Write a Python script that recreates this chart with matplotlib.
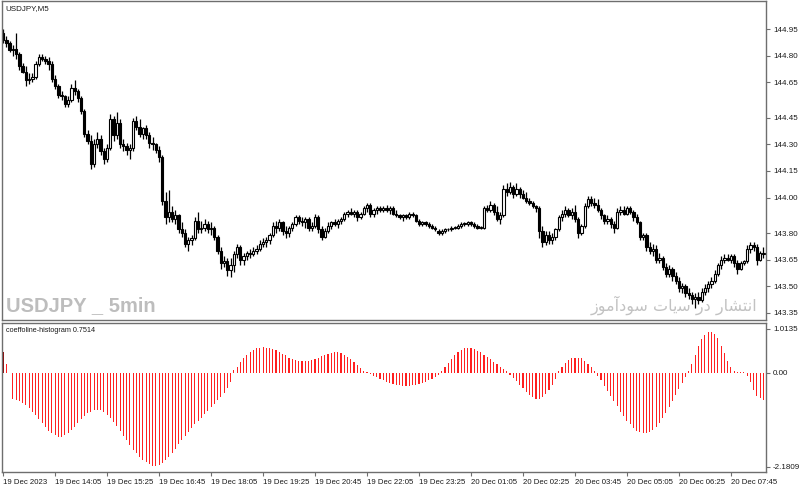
import matplotlib.pyplot as plt

plt.rcParams["font.family"] = ["Liberation Sans", "DejaVu Sans"]

# -------------------------------
# DATA (USDJPY M5, 19 Dec 12:45 -> 20 Dec 08:00)
# -------------------------------
opens = [
    144.93, 144.89, 144.87, 144.83, 144.84, 144.81, 144.74, 144.71, 144.66, 144.67,
    144.68, 144.75, 144.79, 144.78, 144.77, 144.75, 144.67, 144.63, 144.58, 144.57,
    144.53, 144.55, 144.62, 144.60, 144.56, 144.49, 144.36, 144.32, 144.19, 144.30,
    144.33, 144.26, 144.22, 144.28, 144.44, 144.35, 144.42, 144.30, 144.29, 144.27,
    144.28, 144.43, 144.40, 144.36, 144.39, 144.35, 144.31, 144.30, 144.27, 144.23,
    143.98, 143.89, 143.92, 143.88, 143.90, 143.82, 143.80, 143.74, 143.76, 143.77,
    143.87, 143.82, 143.83, 143.85, 143.82, 143.83, 143.78, 143.70, 143.63, 143.64,
    143.59, 143.62, 143.68, 143.72, 143.65, 143.67, 143.69, 143.68, 143.70, 143.71,
    143.74, 143.75, 143.76, 143.79, 143.84, 143.83, 143.86, 143.81, 143.80, 143.83,
    143.85, 143.89, 143.87, 143.86, 143.88, 143.83, 143.84, 143.89, 143.82, 143.78,
    143.81, 143.84, 143.86, 143.85, 143.87, 143.88, 143.91, 143.92, 143.91, 143.92,
    143.89, 143.91, 143.94, 143.96, 143.91, 143.93, 143.94, 143.93, 143.94, 143.93,
    143.94, 143.91, 143.90, 143.89, 143.90, 143.89, 143.91, 143.90, 143.87, 143.85,
    143.86, 143.85, 143.84, 143.83, 143.81, 143.80, 143.81, 143.82, 143.82, 143.83,
    143.83, 143.84, 143.85, 143.85, 143.86, 143.85, 143.84, 143.83, 143.83, 143.94,
    143.93, 143.96, 143.92, 143.88, 143.90, 144.05, 144.03, 144.06, 144.02, 144.05,
    144.02, 144.00, 143.98, 143.97, 143.95, 143.94, 143.81, 143.75, 143.79, 143.76,
    143.78, 143.82, 143.89, 143.91, 143.93, 143.90, 143.92, 143.88, 143.80, 143.84,
    143.95, 143.99, 143.97, 143.96, 143.93, 143.90, 143.87, 143.88, 143.85, 143.83,
    143.92, 143.93, 143.91, 143.94, 143.92, 143.89, 143.86, 143.78, 143.79, 143.72,
    143.70, 143.71, 143.65, 143.66, 143.61, 143.57, 143.60, 143.56, 143.53, 143.49,
    143.50, 143.46, 143.45, 143.43, 143.44, 143.42, 143.47, 143.49, 143.51, 143.53,
    143.57, 143.62, 143.65, 143.66, 143.65, 143.67, 143.63, 143.60, 143.63, 143.64,
    143.71, 143.73, 143.72, 143.65, 143.69,
]
highs = [
    144.95, 144.91, 144.88, 144.86, 144.93, 144.82, 144.76, 144.74, 144.70, 144.70,
    144.77, 144.81, 144.81, 144.80, 144.79, 144.77, 144.69, 144.64, 144.60, 144.58,
    144.57, 144.64, 144.66, 144.61, 144.57, 144.50, 144.38, 144.35, 144.33, 144.37,
    144.35, 144.28, 144.30, 144.47, 144.46, 144.48, 144.44, 144.33, 144.31, 144.30,
    144.45, 144.46, 144.44, 144.40, 144.41, 144.37, 144.34, 144.31, 144.29, 144.24,
    144.03, 144.04, 143.95, 143.93, 143.91, 143.86, 143.82, 143.78, 143.79, 143.89,
    143.92, 143.87, 143.88, 143.87, 143.86, 143.84, 143.79, 143.72, 143.67, 143.66,
    143.66, 143.70, 143.74, 143.73, 143.69, 143.70, 143.71, 143.72, 143.73, 143.76,
    143.77, 143.78, 143.80, 143.86, 143.87, 143.88, 143.87, 143.84, 143.84, 143.86,
    143.90, 143.90, 143.89, 143.89, 143.89, 143.86, 143.91, 143.90, 143.84, 143.83,
    143.86, 143.87, 143.88, 143.88, 143.89, 143.92, 143.93, 143.94, 143.93, 143.93,
    143.92, 143.95, 143.97, 143.97, 143.94, 143.95, 143.95, 143.95, 143.96, 143.95,
    143.95, 143.93, 143.91, 143.91, 143.91, 143.92, 143.92, 143.91, 143.88, 143.87,
    143.87, 143.86, 143.85, 143.84, 143.82, 143.82, 143.83, 143.83, 143.84, 143.84,
    143.85, 143.86, 143.86, 143.87, 143.87, 143.86, 143.85, 143.84, 143.95, 143.96,
    143.98, 143.97, 143.95, 143.92, 144.07, 144.08, 144.09, 144.07, 144.08, 144.06,
    144.04, 144.03, 144.00, 143.98, 143.96, 143.95, 143.84, 143.81, 143.81, 143.80,
    143.83, 143.90, 143.93, 143.95, 143.94, 143.94, 143.96, 143.89, 143.85, 143.97,
    144.01, 144.01, 144.00, 143.99, 143.94, 143.91, 143.90, 143.89, 143.87, 143.94,
    143.95, 143.95, 143.95, 143.95, 143.93, 143.91, 143.87, 143.80, 143.80, 143.75,
    143.74, 143.73, 143.69, 143.67, 143.63, 143.62, 143.61, 143.58, 143.55, 143.52,
    143.51, 143.49, 143.47, 143.46, 143.47, 143.49, 143.51, 143.53, 143.55, 143.59,
    143.63, 143.67, 143.68, 143.68, 143.68, 143.68, 143.65, 143.64, 143.65, 143.73,
    143.75, 143.75, 143.74, 143.70, 143.72,
]
lows = [
    144.87, 144.85, 144.82, 144.80, 144.78, 144.72, 144.70, 144.63, 144.64, 144.65,
    144.67, 144.74, 144.77, 144.75, 144.72, 144.65, 144.61, 144.56, 144.55, 144.51,
    144.51, 144.54, 144.58, 144.54, 144.47, 144.34, 144.30, 144.16, 144.17, 144.28,
    144.24, 144.19, 144.20, 144.27, 144.32, 144.33, 144.28, 144.26, 144.24, 144.22,
    144.26, 144.38, 144.34, 144.33, 144.33, 144.28, 144.27, 144.25, 144.20, 143.96,
    143.85, 143.86, 143.86, 143.85, 143.80, 143.78, 143.72, 143.70, 143.73, 143.76,
    143.80, 143.80, 143.81, 143.80, 143.79, 143.76, 143.68, 143.60, 143.61, 143.56,
    143.55, 143.58, 143.66, 143.62, 143.62, 143.65, 143.66, 143.67, 143.68, 143.70,
    143.72, 143.72, 143.74, 143.78, 143.80, 143.81, 143.79, 143.77, 143.78, 143.81,
    143.84, 143.85, 143.84, 143.83, 143.81, 143.81, 143.83, 143.80, 143.76, 143.77,
    143.80, 143.82, 143.84, 143.83, 143.85, 143.87, 143.89, 143.90, 143.89, 143.87,
    143.88, 143.90, 143.92, 143.89, 143.89, 143.91, 143.92, 143.92, 143.92, 143.91,
    143.90, 143.89, 143.88, 143.87, 143.88, 143.88, 143.89, 143.86, 143.84, 143.84,
    143.84, 143.83, 143.82, 143.81, 143.79, 143.79, 143.80, 143.81, 143.81, 143.82,
    143.82, 143.83, 143.84, 143.84, 143.84, 143.83, 143.82, 143.82, 143.82, 143.92,
    143.92, 143.90, 143.87, 143.85, 143.89, 144.01, 144.02, 144.00, 144.01, 144.00,
    143.99, 143.97, 143.96, 143.94, 143.92, 143.77, 143.72, 143.73, 143.74, 143.74,
    143.76, 143.81, 143.87, 143.89, 143.89, 143.88, 143.86, 143.77, 143.79, 143.83,
    143.94, 143.95, 143.94, 143.92, 143.88, 143.85, 143.85, 143.83, 143.80, 143.82,
    143.90, 143.90, 143.90, 143.91, 143.87, 143.85, 143.76, 143.76, 143.70, 143.68,
    143.67, 143.63, 143.63, 143.59, 143.55, 143.55, 143.53, 143.51, 143.47, 143.46,
    143.44, 143.43, 143.40, 143.38, 143.40, 143.41, 143.45, 143.47, 143.49, 143.52,
    143.56, 143.60, 143.63, 143.64, 143.63, 143.61, 143.57, 143.59, 143.62, 143.63,
    143.69, 143.70, 143.62, 143.64, 143.66,
]
closes = [
    144.89, 144.87, 144.83, 144.84, 144.81, 144.74, 144.71, 144.66, 144.67, 144.68,
    144.75, 144.79, 144.78, 144.77, 144.75, 144.67, 144.63, 144.58, 144.57, 144.53,
    144.55, 144.62, 144.60, 144.56, 144.49, 144.36, 144.32, 144.19, 144.30, 144.33,
    144.26, 144.22, 144.28, 144.44, 144.35, 144.42, 144.30, 144.29, 144.27, 144.28,
    144.43, 144.40, 144.36, 144.39, 144.35, 144.31, 144.30, 144.27, 144.23, 143.98,
    143.89, 143.92, 143.88, 143.90, 143.82, 143.80, 143.74, 143.76, 143.77, 143.87,
    143.82, 143.83, 143.85, 143.82, 143.83, 143.78, 143.70, 143.63, 143.64, 143.59,
    143.62, 143.68, 143.72, 143.65, 143.67, 143.69, 143.68, 143.70, 143.71, 143.74,
    143.75, 143.76, 143.79, 143.84, 143.83, 143.86, 143.81, 143.80, 143.83, 143.85,
    143.89, 143.87, 143.86, 143.88, 143.83, 143.84, 143.89, 143.82, 143.78, 143.81,
    143.84, 143.86, 143.85, 143.87, 143.88, 143.91, 143.92, 143.91, 143.92, 143.89,
    143.91, 143.94, 143.96, 143.91, 143.93, 143.94, 143.93, 143.94, 143.93, 143.94,
    143.91, 143.90, 143.89, 143.90, 143.89, 143.91, 143.90, 143.87, 143.85, 143.86,
    143.85, 143.84, 143.83, 143.82, 143.80, 143.81, 143.82, 143.82, 143.83, 143.83,
    143.84, 143.85, 143.85, 143.86, 143.85, 143.84, 143.83, 143.83, 143.94, 143.93,
    143.96, 143.92, 143.88, 143.90, 144.05, 144.03, 144.06, 144.02, 144.05, 144.02,
    144.00, 143.98, 143.97, 143.95, 143.94, 143.81, 143.75, 143.79, 143.76, 143.78,
    143.82, 143.89, 143.91, 143.93, 143.90, 143.92, 143.88, 143.80, 143.84, 143.95,
    143.99, 143.97, 143.96, 143.93, 143.90, 143.87, 143.88, 143.85, 143.83, 143.92,
    143.93, 143.91, 143.94, 143.92, 143.89, 143.86, 143.78, 143.79, 143.72, 143.70,
    143.71, 143.65, 143.66, 143.61, 143.57, 143.60, 143.56, 143.53, 143.49, 143.50,
    143.46, 143.45, 143.43, 143.44, 143.42, 143.47, 143.49, 143.51, 143.53, 143.57,
    143.62, 143.65, 143.66, 143.65, 143.67, 143.63, 143.60, 143.63, 143.64, 143.71,
    143.73, 143.72, 143.65, 143.69, 143.68,
]

# coeffoline histogram, one value per bar
coeff = [
    0.49, 0.21, 0.00, -0.62, -0.64, -0.66, -0.70, -0.75, -0.82, -0.90,
    -0.99, -1.08, -1.17, -1.26, -1.34, -1.40, -1.45, -1.48, -1.48, -1.45,
    -1.40, -1.33, -1.25, -1.17, -1.08, -1.00, -0.94, -0.90, -0.87, -0.86,
    -0.87, -0.91, -0.97, -1.05, -1.14, -1.24, -1.35, -1.46, -1.57, -1.68,
    -1.78, -1.87, -1.95, -2.02, -2.08, -2.12, -2.15, -2.16, -2.14, -2.10,
    -2.03, -1.95, -1.86, -1.76, -1.66, -1.56, -1.46, -1.37, -1.28, -1.20,
    -1.12, -1.04, -0.96, -0.88, -0.80, -0.72, -0.64, -0.56, -0.46, -0.35,
    -0.22, 0.06, 0.13, 0.25, 0.34, 0.40, 0.48, 0.52, 0.57, 0.57,
    0.60, 0.57, 0.56, 0.54, 0.52, 0.48, 0.44, 0.40, 0.35, 0.31,
    0.29, 0.27, 0.26, 0.26, 0.27, 0.29, 0.32, 0.35, 0.38, 0.41,
    0.44, 0.46, 0.47, 0.47, 0.45, 0.42, 0.37, 0.31, 0.24, 0.17,
    0.10, 0.05, 0.02, -0.03, -0.07, -0.11, -0.15, -0.18, -0.21, -0.24,
    -0.26, -0.28, -0.29, -0.30, -0.30, -0.30, -0.29, -0.28, -0.26, -0.24,
    -0.21, -0.18, -0.14, -0.10, -0.06, 0.04, 0.12, 0.22, 0.32, 0.41,
    0.48, 0.53, 0.56, 0.57, 0.56, 0.54, 0.51, 0.47, 0.42, 0.37,
    0.31, 0.25, 0.19, 0.13, 0.08, 0.03, -0.05, -0.12, -0.20, -0.28,
    -0.36, -0.44, -0.51, -0.56, -0.60, -0.60, -0.57, -0.50, -0.40, -0.28,
    -0.15, 0.05, 0.14, 0.22, 0.29, 0.33, 0.35, 0.35, 0.33, 0.28,
    0.21, 0.13, 0.05, -0.08, -0.18, -0.30, -0.42, -0.54, -0.66, -0.78,
    -0.90, -1.01, -1.11, -1.20, -1.28, -1.34, -1.38, -1.40, -1.40, -1.37,
    -1.32, -1.25, -1.16, -1.05, -0.93, -0.80, -0.66, -0.52, -0.38, -0.24,
    -0.10, 0.05, 0.20, 0.40, 0.62, 0.79, 0.88, 0.93, 0.93, 0.90,
    0.80, 0.62, 0.45, 0.27, 0.12, 0.03, 0.01, 0.02, 0.01, -0.07,
    -0.22, -0.40, -0.53, -0.59, -0.63,
]

price_ticks = [144.95, 144.80, 144.65, 144.45, 144.30, 144.15, 144.00,
               143.80, 143.65, 143.50, 143.35]
coeff_ticks = [1.0135, 0.00, -2.1809]
coeff_tick_labels = ["1.0135", "0.00", "-2.1809"]
time_labels = ["19 Dec 2023", "19 Dec 14:05", "19 Dec 15:25", "19 Dec 16:45",
               "19 Dec 18:05", "19 Dec 19:25", "19 Dec 20:45", "19 Dec 22:05",
               "19 Dec 23:25", "20 Dec 01:05", "20 Dec 02:25", "20 Dec 03:45",
               "20 Dec 05:05", "20 Dec 06:25", "20 Dec 07:45"]
label_every = 16  # one time label every 16 bars

# -------------------------------
# FIGURE
# -------------------------------
fig = plt.figure(figsize=(8.0, 4.9), dpi=100)
ax = fig.add_axes([0.0025, 0.347, 0.955, 0.651])
ax2 = fig.add_axes([0.0025, 0.037, 0.955, 0.304])

frame = "#6e6e6e"
txt = "#1a1a1a"
n = len(closes)
xs = list(range(n))

# candles: white body = up, black body = down
body_bottom = [min(o, c) for o, c in zip(opens, closes)]
body_height = [max(abs(c - o), 0.004) for o, c in zip(opens, closes)]
body_color = ["white" if c >= o else "black" for o, c in zip(opens, closes)]
ax.vlines(xs, lows, highs, color="black", linewidth=0.9, zorder=1)
ax.bar(xs, body_height, bottom=body_bottom, width=0.7, color=body_color,
       edgecolor="black", linewidth=0.8, zorder=2)

ax.set_xlim(-0.35, n - 0.2)
ax.set_ylim(143.31, 145.108)
ax.yaxis.tick_right()
ax.set_yticks(price_ticks)
ax.set_yticklabels([f"{t:.2f}" for t in price_ticks])
ax.tick_params(axis="y", direction="out", length=3, labelsize=5.8, pad=2,
               color=frame, labelcolor=txt)
ax.set_xticks([])
for s in ax.spines.values():
    s.set_color(frame)
    s.set_linewidth(1.0)

ax.text(0.004, 0.988, "USDJPY,M5", transform=ax.transAxes, fontsize=5.8,
        va="top", ha="left", color=txt)

# watermarks
ax.text(0.005, 0.045, "USDJPY _ 5min", transform=ax.transAxes, fontsize=14.5,
        fontweight="bold", color="#bdbdbd", va="center", ha="left")
# Persian text (pre-shaped presentation forms, visual order)
fa_text = ("\uFEAF\uFEEE\uFEE3\uFE81\uFEA9\uFEEE\uFEB3 "
           "\uFE95\uFE8E\uFBFE\uFEB3 "
           "\uFEAD\uFEA9 "
           "\uFEAD\uFE8E\uFEB8\uFE98\uFEE7\uFE8D")
ax.text(0.988, 0.045, fa_text, transform=ax.transAxes, fontsize=11.5,
        color="#c2c2c2", va="center", ha="right", family=["DejaVu Sans"])

# histogram
bar_colors = ["#8b0000"] + ["#ff2020"] * (n - 1)
ax2.bar(xs, coeff, width=0.34, color=bar_colors, linewidth=0)
ax2.set_xlim(-0.35, n - 0.2)
ax2.set_ylim(-2.297, 1.152)
ax2.yaxis.tick_right()
ax2.set_yticks(coeff_ticks)
ax2.set_yticklabels(coeff_tick_labels)
ax2.tick_params(axis="y", direction="out", length=3, labelsize=5.8, pad=2,
                color=frame, labelcolor=txt)
tick_pos = [i * label_every for i in range(len(time_labels))]
ax2.set_xticks(tick_pos)
ax2.set_xticklabels(time_labels, ha="left")
ax2.tick_params(axis="x", direction="out", length=3, labelsize=5.6, pad=2,
                color=frame, labelcolor=txt)
for s in ax2.spines.values():
    s.set_color(frame)
    s.set_linewidth(1.0)

ax2.text(0.005, 0.975, "coeffoline-histogram 0.7514", transform=ax2.transAxes,
         fontsize=5.2, va="top", ha="left", color=txt)

plt.savefig("out.png", dpi=100)
plt.close()
